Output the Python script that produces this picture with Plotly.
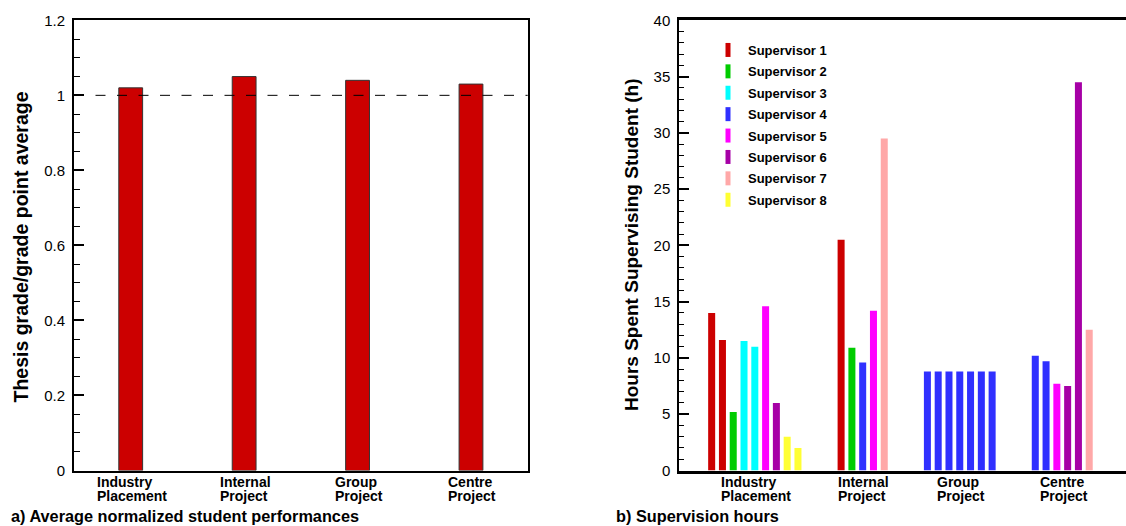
import plotly.graph_objects as go

# ---------------- data ----------------
perf_categories = [["Industry", "Placement"], ["Internal", "Project"],
                   ["Group", "Project"], ["Centre", "Project"]]
perf_values = [1.02, 1.05, 1.04, 1.03]

supervisor_names = ["Supervisor 1", "Supervisor 2", "Supervisor 3", "Supervisor 4",
                    "Supervisor 5", "Supervisor 6", "Supervisor 7", "Supervisor 8"]
supervisor_colors = ["#CC0000", "#00CC00", "#00FFFF", "#3030FF",
                     "#FF00FF", "#A600A6", "#FFA8A8", "#FFFF33"]

industry_sup = [1, 1, 2, 3, 3, 5, 6, 8, 8]
industry_hours = [14.0, 11.6, 5.2, 11.5, 11.0, 14.6, 6.0, 3.0, 2.0]
internal_sup = [1, 2, 4, 5, 7]
internal_hours = [20.5, 10.9, 9.6, 14.2, 29.5]
group_sup = [4, 4, 4, 4, 4, 4, 4]
group_hours = [8.8, 8.8, 8.8, 8.8, 8.8, 8.8, 8.8]
centre_sup = [4, 4, 5, 6, 6, 7]
centre_hours = [10.2, 9.7, 7.7, 7.5, 34.5, 12.5]

groups = [(industry_sup, industry_hours), (internal_sup, internal_hours),
          (group_sup, group_hours), (centre_sup, centre_hours)]

FONT = "Liberation Sans, Arial, Helvetica, sans-serif"
W, H = 1126, 526

# Arial/Liberation Sans Bold advance widths (per 1000 em) for label alignment
BOLD_W = {"I": 278, "n": 611, "d": 611, "u": 611, "s": 556, "t": 333, "r": 389, "y": 556,
          "P": 667, "l": 278, "a": 556, "c": 556, "e": 556, "m": 889, "o": 611, "j": 278,
          "G": 778, "p": 611, "C": 722}

def text_w(s, size):
    return sum(BOLD_W.get(ch, 556) for ch in s) * size / 1000.0

def px_x(p):
    return p / W

def px_y(p):
    return (H - p) / H

fig = go.Figure()

# ---------------- left panel ----------------
perf_x = list(range(1, len(perf_values) + 1))
fig.add_trace(go.Bar(
    x=perf_x, y=perf_values, width=0.21,
    marker=dict(color="#CC0000", line=dict(color="#333333", width=1)),
    xaxis="x", yaxis="y", showlegend=False,
))

# ---------------- right panel ----------------
# slot positions: bars in a row, 3 empty slots between groups
pos = 1
bar_pos, bar_sup, bar_val, group_centers = [], [], [], []
for sups, vals in groups:
    start = pos
    for s, v in zip(sups, vals):
        bar_pos.append(pos)
        bar_sup.append(s)
        bar_val.append(v)
        pos += 1
    group_centers.append((start + pos - 1) / 2)
    pos += 3

for k, (name, col) in enumerate(zip(supervisor_names, supervisor_colors), start=1):
    xs = [p for p, s in zip(bar_pos, bar_sup) if s == k]
    ys = [v for v, s in zip(bar_val, bar_sup) if s == k]
    fig.add_trace(go.Bar(
        x=xs, y=ys, width=0.65, marker=dict(color=col, line=dict(width=0)),
        xaxis="x2", yaxis="y2", showlegend=False, name=name,
    ))
    fig.add_trace(go.Scatter(
        x=[None], y=[None], mode="markers", name=name, legendgroup=name,
        marker=dict(symbol="line-ns", size=10, color=col, line=dict(color=col, width=6)),
        xaxis="x2", yaxis="y2", showlegend=True,
    ))

y_dom = [px_y(470.5), px_y(20.3)]

fig.update_layout(
    width=W, height=H,
    margin=dict(l=0, r=0, t=0, b=0),
    paper_bgcolor="white", plot_bgcolor="white",
    font=dict(family=FONT, color="black"),
    barmode="overlay",
    xaxis=dict(domain=[px_x(74), px_x(527.7)], range=[0.5, 4.5], showticklabels=False,
               ticks="", showgrid=False, zeroline=False, showline=True, mirror=True,
               linecolor="black", linewidth=2, anchor="y", automargin=False),
    yaxis=dict(domain=y_dom, range=[0, 1.2], dtick=0.2, tick0=0, ticks="inside", ticklen=10,
               tickwidth=1.5, tickcolor="black", showgrid=False, zeroline=False,
               showline=True, mirror=True, linecolor="black", linewidth=2,
               tickfont=dict(size=15, family=FONT), anchor="x", automargin=False,
               ticklabelstandoff=4,
               minor=dict(dtick=0.05, ticks="inside", ticklen=6, tickwidth=1, tickcolor="black",
                          showgrid=False)),
    xaxis2=dict(domain=[px_x(679.3), 1.0], range=[-2, 39.41], showticklabels=False,
                ticks="", showgrid=False, zeroline=False, showline=True, mirror=True,
                linecolor="black", linewidth=2.5, anchor="y2", automargin=False),
    yaxis2=dict(domain=y_dom, range=[0, 40], dtick=5, tick0=0, ticks="inside", ticklen=10,
                tickwidth=2, tickcolor="black", showgrid=False, zeroline=False,
                showline=True, mirror=False, linecolor="black", linewidth=2,
                tickfont=dict(size=15, family=FONT), anchor="x2", automargin=False,
                ticklabelstandoff=4,
                minor=dict(dtick=1, ticks="inside", ticklen=5, tickwidth=1, tickcolor="black",
                           showgrid=False)),
    yaxis3=dict(overlaying="y2", anchor="x2", side="right", range=[0, 40], dtick=5, tick0=0,
                ticks="inside", ticklen=4, tickwidth=2, tickcolor="black",
                showticklabels=False, showgrid=False, zeroline=False, showline=False,
                automargin=False),
    legend=dict(x=px_x(708), y=px_y(35), xanchor="left", yanchor="top",
                bgcolor="rgba(0,0,0,0)", borderwidth=0, tracegroupgap=1.5,
                font=dict(size=13, family=FONT, color="black", weight="bold"),
                itemclick=False, itemdoubleclick=False),
    showlegend=True,
)

# dashed reference line at 1
fig.add_shape(type="line", xref="x domain", yref="y", x0=0, x1=1, y0=1, y1=1,
              line=dict(color="black", width=1, dash="10px,11.5px"), layer="above")

annotations = []
LAB_SIZE = 14
LINE1_TOP = 473
LINE_STEP = 14

def add_labels(xs, xref):
    for x, lines in zip(xs, perf_categories):
        block_w = max(text_w(t, LAB_SIZE) for t in lines)
        for i, t in enumerate(lines):
            annotations.append(dict(
                x=x, xref=xref, y=px_y(LINE1_TOP + i * LINE_STEP), yref="paper",
                yanchor="top", xanchor="left", xshift=-block_w / 2, borderpad=0,
                showarrow=False, text=f"<b>{t}</b>",
                font=dict(size=LAB_SIZE, family=FONT, color="black")))

add_labels(perf_x, "x")
add_labels(group_centers, "x2")

# axis titles
annotations.append(dict(x=px_x(20.5), y=px_y(247), xref="paper", yref="paper", textangle=-90,
                        xanchor="center", yanchor="middle", showarrow=False,
                        text="<b>Thesis grade/grade point average</b>",
                        font=dict(size=19.5, family=FONT, color="black")))
annotations.append(dict(x=px_x(631), y=px_y(245), xref="paper", yref="paper", textangle=-90,
                        xanchor="center", yanchor="middle", showarrow=False,
                        text="<b>Hours Spent Supervising Student (h)</b>",
                        font=dict(size=19, family=FONT, color="black")))
# captions
annotations.append(dict(x=px_x(10), y=0, xref="paper", yref="paper", borderpad=0,
                        xanchor="left", yanchor="bottom", showarrow=False,
                        text="<b>a) Average normalized student performances</b>",
                        font=dict(size=16.3, family=FONT, color="black")))
annotations.append(dict(x=px_x(615), y=0, xref="paper", yref="paper", borderpad=0,
                        xanchor="left", yanchor="bottom", showarrow=False,
                        text="<b>b) Supervision hours</b>",
                        font=dict(size=16.3, family=FONT, color="black")))
fig.update_layout(annotations=annotations)

fig.write_html("out.html", config={"displayModeBar": False},
               post_script="document.body.style.margin='0';document.body.style.overflow='hidden';")
